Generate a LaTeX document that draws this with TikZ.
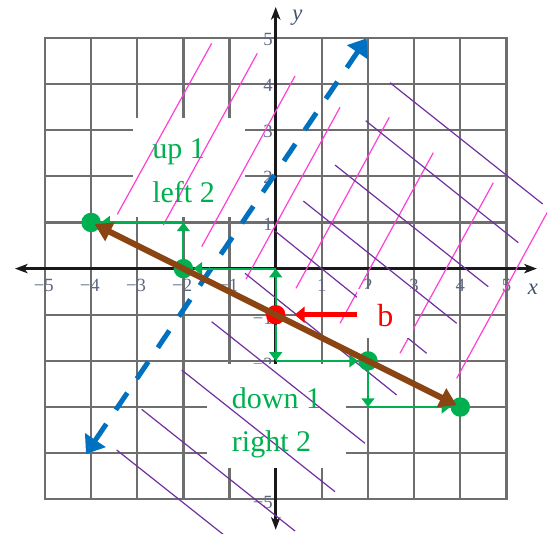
\documentclass[tikz,border=0pt]{standalone}
\usepackage{fontspec}
\setmainfont{Liberation Serif}
\usetikzlibrary{arrows.meta}
\definecolor{gridgray}{HTML}{6E6E6E}
\definecolor{ticklab}{HTML}{5E6885}
\definecolor{axislab}{HTML}{44506E}
\definecolor{mygreen}{HTML}{00B050}
\definecolor{myred}{HTML}{FF0000}
\definecolor{mybrown}{RGB}{139,69,19}
\definecolor{myblue}{HTML}{0070C0}
\definecolor{mypink}{HTML}{FF3FD6}
\definecolor{mypurple}{HTML}{7030A0}
\begin{document}
\begin{tikzpicture}[x=0.75pt,y=-0.75pt,
  gridunits/.style={shift={(275.7,268.6)},x=34.6125pt,y=34.6125pt},
  gridline/.style={draw=gridgray,line width=1.65pt,line cap=rect},
  axisline/.style={draw=black!90,line width=1.9pt,{Stealth[length=9.5pt,width=7pt,inset=2.5pt]}-{Stealth[length=9.5pt,width=7pt,inset=2.5pt]}},
  ticklabel/.style={text=ticklab,font=\fontsize{14}{14}\selectfont,inner sep=0pt},
  axisletter/.style={text=axislab,font=\itshape\fontsize{17}{17}\selectfont,inner sep=0pt},
  whitebox/.style={fill=white,draw=none},
  pinkline/.style={draw=mypink,line width=0.9pt},
  purpleline/.style={draw=mypurple,line width=0.9pt},
  bluedash/.style={draw=myblue,line width=3.75pt,dash pattern=on 15.4pt off 12.75pt,{Triangle[length=12.6pt,width=18pt]}-{Triangle[length=12.6pt,width=18pt]}},
  greenarrow/.style={draw=mygreen,line width=1.5pt,-{Triangle[length=6.5pt,width=9.5pt]}},
  dotnode/.style={circle,inner sep=0pt,minimum size=14.6pt,draw=none},
  brownarrow/.style={draw=mybrown,line width=4.5pt,{Triangle[length=12.75pt,width=15pt]}-{Triangle[length=12.75pt,width=15pt]},shorten <=3pt,shorten >=3pt},
  redarrow/.style={draw=myred,line width=3.4pt,-{Triangle[length=7.5pt,width=12pt]},shorten >=6.75pt},
  steptext/.style={text=mygreen,font=\fontsize{22.5}{33}\selectfont,anchor=base west,inner sep=0pt},
]
\useasboundingbox (0,0) rectangle (547,533);
\clip (0,0) rectangle (547,533);

% grid, axes and tick labels
\begin{scope}[gridunits]
  \foreach \k in {-5,...,5} {
    \draw[gridline] (\k,-5) -- (\k,5);
    \draw[gridline] (-5,\k) -- (5,\k);
  }
  \coordinate (xL) at (-5.65,0);
  \coordinate (xR) at (5.66,0);
  \coordinate (yB) at (0,-5.66);
  \coordinate (yT) at (0,5.67);
  \draw[axisline] (xL) -- (xR);
  \draw[axisline] (yB) -- (yT);
  \foreach \i in {1,...,5} {
    \node[ticklabel] (xp\i) at (\i,-0.366) {\i};
    \node[ticklabel] (xn\i) at (-\i+0.087,-0.366) {\llap{−}\i};
    \node[ticklabel] (yp\i) at (-0.167,\i-0.03) {\i};
  }
  \foreach \j in {1,2,5} {
    \node[ticklabel] (yn\j) at (-0.167,-\j-0.07) {\llap{−}\j};
  }
  \node[axisletter] (ylab) at (0.472,5.43) {y};
  \node[axisletter] (xlab) at (5.575,-0.443) {x};
\end{scope}

% white boxes behind the step labels
\fill[whitebox] (133,118) rectangle (245,217);
\fill[whitebox] (207,364) rectangle (346,468);

% pink hatching
\draw[pinkline] (211.7,43.3) -- (117.3,214.3);
\draw[pinkline] (257.3,53.3) -- (163.3,225);
\draw[pinkline] (295,76) -- (201.7,246.7);
\draw[pinkline] (340,107.3) -- (246,279);
\draw[pinkline] (389.3,117.3) -- (296,288.3);
\draw[pinkline] (433.3,152.7) -- (340,323.3);
\draw[pinkline] (493.3,182.7) -- (400,353.3);
\draw[pinkline] (550.5,206.4) -- (456.7,378.3);

% purple hatching
\draw[purpleline] (390,82.7) -- (542.7,204);
\draw[purpleline] (365.7,120.7) -- (518.3,242.7);
\draw[purpleline] (335,165) -- (488.3,286.7);
\draw[purpleline] (303.3,201) -- (456.7,323.3);
\draw[purpleline] (275,231) -- (426.7,353.3);
\draw[purpleline] (245,273.3) -- (396.7,395);
\draw[purpleline] (211.7,321.7) -- (365,443.3);
\draw[purpleline] (181.7,370) -- (335,491.7);
\draw[purpleline] (141.7,409.3) -- (295,531);
\draw[purpleline] (116.7,450) -- (270,571.5);

% white box behind b
\fill[whitebox] (357,289) rectangle (413,338);

% blue dashed line
\coordinate (bl1) at (86,454);
\coordinate (bl2) at (366.7,38.3);
\draw[bluedash] (bl1) -- (bl2);

% points, steps and the line
\begin{scope}[gridunits]
  \coordinate (p00) at (0,0);
  \coordinate (pm21) at (-2,1);
  \coordinate (p0m2) at (0,-2);
  \coordinate (p2m3) at (2,-3);
  \node[dotnode,fill=mygreen] (gA) at (-4,1) {};
  \node[dotnode,fill=mygreen] (gB) at (-2,0) {};
  \node[dotnode,fill=mygreen] (gC) at (2,-2) {};
  \node[dotnode,fill=mygreen] (gD) at (4,-3) {};
  \node[dotnode,fill=myred] (rb) at (0,-1) {};
  \draw[greenarrow] (gB) -- (pm21);
  \draw[greenarrow] (pm21) -- (gA);
  \draw[greenarrow] (rb) -- (p00);
  \draw[greenarrow] (p00) -- (gB);
  \draw[greenarrow] (rb) -- (p0m2);
  \draw[greenarrow] (p0m2) -- (gC);
  \draw[greenarrow] (gC) -- (p2m3);
  \draw[greenarrow] (p2m3) -- (gD);
  \draw[brownarrow] (gA.center) -- (gD.center);
\end{scope}

% texts
\node[steptext] (up) at (152,158.3) {up 1};
\node[steptext] (left) at (152,202.7) {left 2};
\node[steptext] (down) at (231.7,408.3) {down 1};
\node[steptext] (right) at (231.7,451.7) {right 2};
\node[text=myred,font=\fontsize{24}{24}\selectfont,anchor=base west,inner sep=0pt] (blab) at (377,326.7) {b};
\coordinate (bstart) at (357.3,314.75);
\draw[redarrow] (bstart) -- (rb);
\end{tikzpicture}
\end{document}
